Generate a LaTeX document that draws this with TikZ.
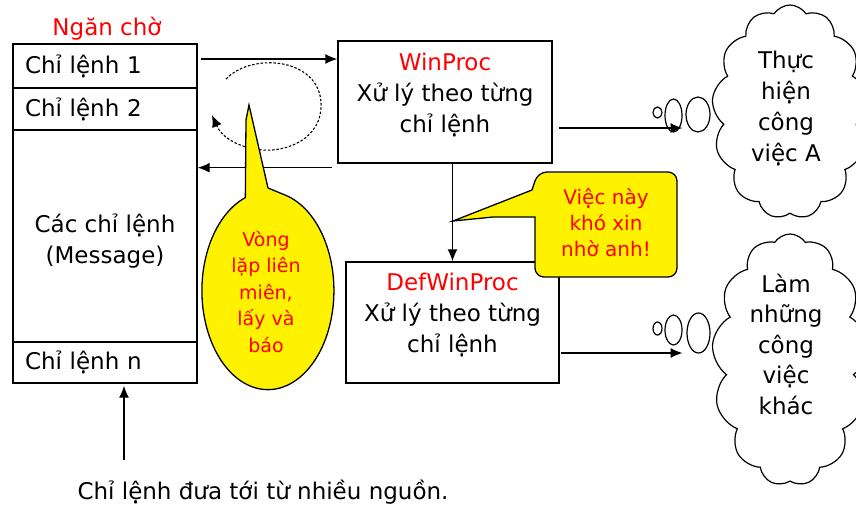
\documentclass[tikz,border=0pt]{standalone}
\usepackage{fontspec}
\setmainfont{DejaVu Sans}
\usetikzlibrary{arrows.meta,shapes.geometric,shapes.symbols,positioning}

\tikzset{
  qrow/.style={draw, line width=1.4pt, text width=160pt, inner xsep=12pt, inner ysep=0pt, align=left},
  procbox/.style={draw, line width=1.4pt, minimum width=214pt, minimum height=122pt},
  proctext/.style={align=center},
  redtext/.style={text=red},
  arr/.style={line width=1.4pt, -{Latex[length=12pt,width=10pt]}},
  loopline/.style={line width=1.1pt, dash pattern=on 2.5pt off 1.8pt, -{Latex[length=12pt,width=10pt]}},
  note/.style={draw, fill=yellow, line width=1.3pt},
  notetext/.style={text=red, align=center},
  puff/.style={draw, ellipse, line width=1.2pt, inner sep=0pt},
  cloudbox/.style={draw, cloud, cloud puffs=13, cloud puff arc=115, line width=1.2pt, minimum width=156pt, inner sep=0pt}
}

\begin{document}
\begin{tikzpicture}[x=1pt, y=-1pt, font=\fontsize{23}{31}\selectfont]
\useasboundingbox (0,0) rectangle (856,506);

% hang doi chi lenh
\node[redtext] (title) at (107,29) {Ngăn chờ};
\node[qrow, minimum height=44pt] (q1) at (105,66) {Chỉ lệnh 1};
\node[qrow, minimum height=42pt] (q2) at (105,109) {Chỉ lệnh 2};
\node[qrow, minimum height=212pt] (qm) at (105,236) {};
\node[align=center, yshift=-5pt] (qmtext) at (qm) {Các chỉ lệnh\\(Message)};
\node[qrow, minimum height=41pt] (qn) at (105,362.5) {Chỉ lệnh n};

% hai ham xu ly
\node[procbox] (wp) at (445,102) {};
\node[proctext, yshift=7pt] (wptext) at (wp) {\textcolor{red}{WinProc}\\Xử lý theo từng\\chỉ lệnh};
\node[procbox, minimum width=213pt, minimum height=121pt] (dwp) at (452.5,322.5) {};
\node[proctext, yshift=8pt] (dwptext) at (dwp) {\textcolor{red}{DefWinProc}\\Xử lý theo từng\\chỉ lệnh};

% may va bong bong
\node[cloudbox, minimum height=214pt] (c1) at (790,112) {};
\node[align=center] (c1text) at (786,108) {Thực\\hiện\\công\\việc A};
\node[cloudbox, minimum height=252pt] (c2) at (790,360) {};
\node[align=center, font=\fontsize{23}{30.5}\selectfont] (c2text) at (786,344) {Làm\\những\\công\\việc\\khác};

\node[puff, minimum width=9pt, minimum height=11pt] (o1s) at (657.5,112.5) {};
\node[puff, minimum width=17pt, minimum height=33pt] (o1m) at (673.5,115.5) {};
\node[puff, minimum width=24pt, minimum height=35pt] (o1l) at (698,114.5) {};
\node[puff, minimum width=9pt, minimum height=13pt] (o2s) at (657.5,328.5) {};
\node[puff, minimum width=17pt, minimum height=30pt] (o2m) at (673.5,330) {};
\node[puff, minimum width=23pt, minimum height=40pt] (o2l) at (698.5,333) {};

% mui ten
\coordinate (qout) at ([xshift=3pt,yshift=7pt]q1.east);
\draw[arr] (qout) -- (qout -| wp.west);
\coordinate (wpback) at ([xshift=-5pt,yshift=-4pt]wp.south west);
\draw[arr] (wpback) -- (wpback -| qm.east);
\draw[arr] (dwp.north |- wp.south) -- (dwp.north);
\coordinate (wpout) at ([xshift=6pt,yshift=-26pt]wp.east);
\draw[arr] (wpout) -- (wpout -| o1m.east);
\coordinate (dwpout) at ([xshift=1pt,yshift=-30.5pt]dwp.east);
\draw[arr] (dwpout) -- (dwpout -| o2m.east);
\coordinate (src) at (124,460);
\draw[arr] (src) -- ([yshift=-2pt]src |- qn.south);
\node (srctext) at (263,492) {Chỉ lệnh đưa tới từ nhiều nguồn.};

% vong lap
\draw[loopline] (226,79) .. controls (252,52) and (318,58) .. (321,102)
  .. controls (323,140) and (285,152) .. (262,150)
  .. controls (240,148) and (222,138) .. (212,115);

% chu thich vang
\draw[note] (249,105) -- (268,188) -- (285,195)
  arc[start angle=-75, end angle=250, x radius=66, y radius=99] -- (246,120) -- cycle;
\node[notetext, font=\fontsize{19}{26.5}\selectfont] (looptext) at (266,292) {Vòng\\lặp liên\\miên,\\lấy và\\báo};

\draw[note] (453,221) -- (532,190) [rounded corners=9pt] -- (538,172) -- (677,172)
  -- (677,277) -- (535,277) [sharp corners] -- (535,217) -- (493,217) -- cycle;
\node[notetext, font=\fontsize{20}{26}\selectfont] (helptext) at (606,223) {Việc này\\khó xin\\nhờ anh!};
\end{tikzpicture}
\end{document}
